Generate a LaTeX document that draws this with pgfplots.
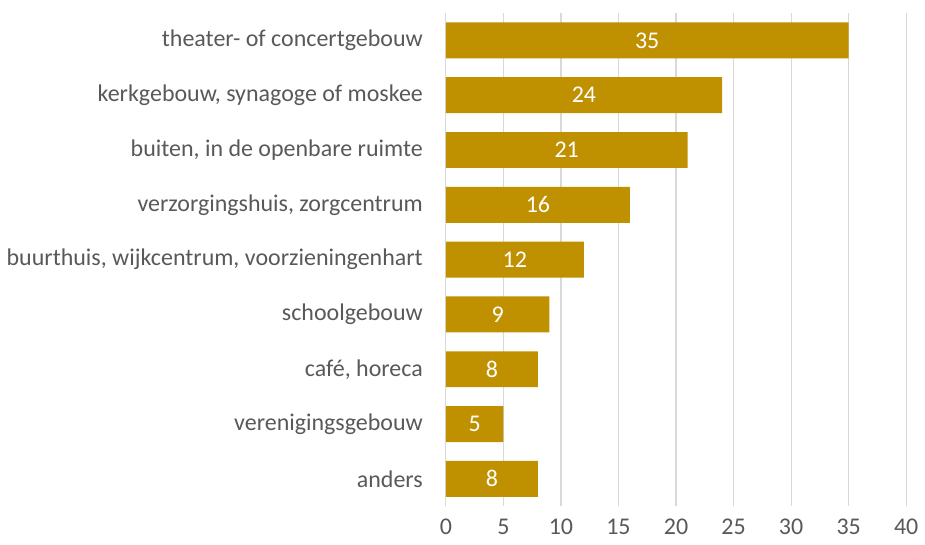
\documentclass[border=0pt]{standalone}
\usepackage{fontspec}
\setmainfont{Carlito}
\usepackage{pgfplots}
\pgfplotsset{compat=1.18}
\definecolor{bargold}{RGB}{191,144,0}
\definecolor{txtgray}{RGB}{89,89,89}
\definecolor{gridgray}{RGB}{217,217,217}
\begin{document}
\begin{tikzpicture}
\begin{axis}[
  name=main,
  xbar,
  bar width=18pt,
  width=230.5pt, height=247pt,
  scale only axis,
  xmin=0, xmax=40,
  ymin=-0.5, ymax=8.5,
  y dir=reverse,
  xtick={0,5,...,40},
  ytick={0,...,8},
  yticklabels={theater- of concertgebouw, {kerkgebouw, synagoge of moskee},
    {buiten, in de openbare ruimte}, {verzorgingshuis, zorgcentrum},
    {buurthuis, wijkcentrum, voorzieningenhart}, schoolgebouw,
    {café, horeca}, verenigingsgebouw, anders},
  axis line style={draw=none},
  major tick length=0pt,
  xmajorgrids, grid style={gridgray, line width=0.6pt},
  tick label style={font=\fontsize{12}{14}\selectfont, text=txtgray},
  yticklabel style={xshift=-8pt},
  xticklabel style={yshift=-3pt},
  /pgf/number format/assume math mode=true,
  visualization depends on={x \as \rawx},
  nodes near coords,
  every node near coord/.append style={anchor=center, text=white,
    font=\fontsize{12}{14}\selectfont,
    shift={(axis direction cs:-\rawx/2,0)}},
  clip=false,
]
\addplot[fill=bargold, draw=none] coordinates {
  (35,0) (24,1) (21,2) (16,3) (12,4) (9,5) (8,6) (5,7) (8,8)
};
\end{axis}
\path ([yshift=6.5pt]main.north) ([yshift=-19pt]main.south);
\end{tikzpicture}
\end{document}
